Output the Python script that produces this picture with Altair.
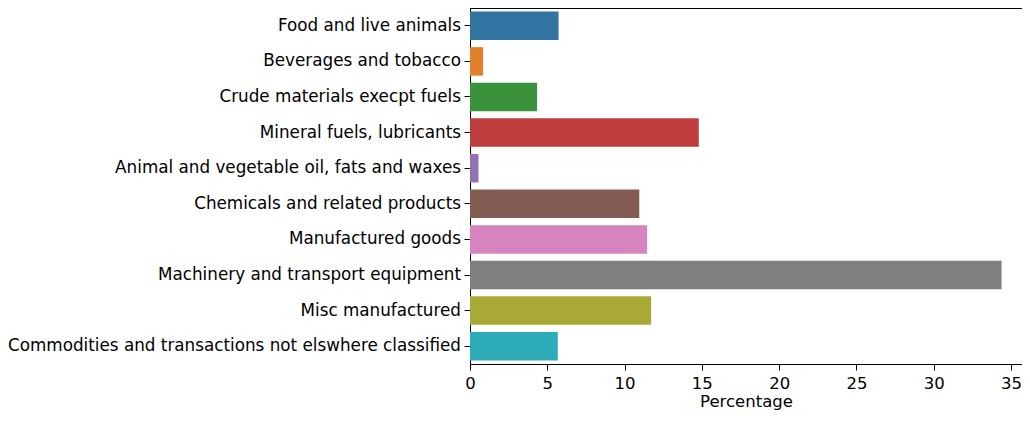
import altair as alt
import pandas as pd

categories = [
    "Food and live animals",
    "Beverages and tobacco",
    "Crude materials execpt fuels",
    "Mineral fuels, lubricants",
    "Animal and vegetable oil, fats and waxes",
    "Chemicals and related products",
    "Manufactured goods",
    "Machinery and transport equipment",
    "Misc manufactured",
    "Commodities and transactions not elswhere classified",
]
values = [5.73, 0.85, 4.34, 14.80, 0.55, 10.95, 11.46, 34.39, 11.72, 5.68]
colors = ["#3274a1", "#e1812c", "#3a923a", "#c03d3e", "#9372b2",
          "#845b53", "#d684bd", "#7f7f7f", "#a9aa35", "#2eabb8"]
x_ticks = [0, 5, 10, 15, 20, 25, 30, 35]

df = pd.DataFrame({"category": categories, "value": values})

FONT = "DejaVu Sans"
W, H = 552, 356
X_MAX = 35.71

bars = alt.Chart(df).mark_bar().encode(
    x=alt.X("value:Q", title="Percentage",
            scale=alt.Scale(domain=[0, X_MAX], nice=False, zero=True),
            axis=alt.Axis(values=x_ticks, grid=False, tickSize=6, labelPadding=5,
                          titleY=42, titleBaseline="alphabetic",
                          labelFontSize=16.5, titleFontSize=16.5,
                          titleFontWeight="normal", labelColor="#000", titleColor="#000",
                          tickColor="#000", domainColor="#000", labelFont=FONT,
                          titleFont=FONT, labelFlush=False)),
    y=alt.Y("category:N", sort=categories, title=None,
            scale=alt.Scale(paddingInner=0.2, paddingOuter=0.1),
            axis=alt.Axis(tickSize=6, labelPadding=3.5, labelFontSize=16.8, labelColor="#000",
                          tickColor="#000", domainColor="#000", labelFont=FONT,
                          labelLimit=600)),
    color=alt.Color("category:N", scale=alt.Scale(domain=categories, range=colors),
                    legend=None),
)

top = alt.Chart(df).mark_rule(color="#000", strokeWidth=1).encode(
    x=alt.value(0), x2=alt.value(W), y=alt.value(0)
)

chart = alt.layer(bars, top).properties(
    width=W, height=H,
    autosize=alt.AutoSizeParams(type="none"),
    padding={"left": 462, "top": 0, "right": 0, "bottom": 47},
).configure_view(stroke=None).configure_axis(domainWidth=1, tickWidth=1)

chart.save("out.html", embed_options={"renderer": "svg", "actions": False})
